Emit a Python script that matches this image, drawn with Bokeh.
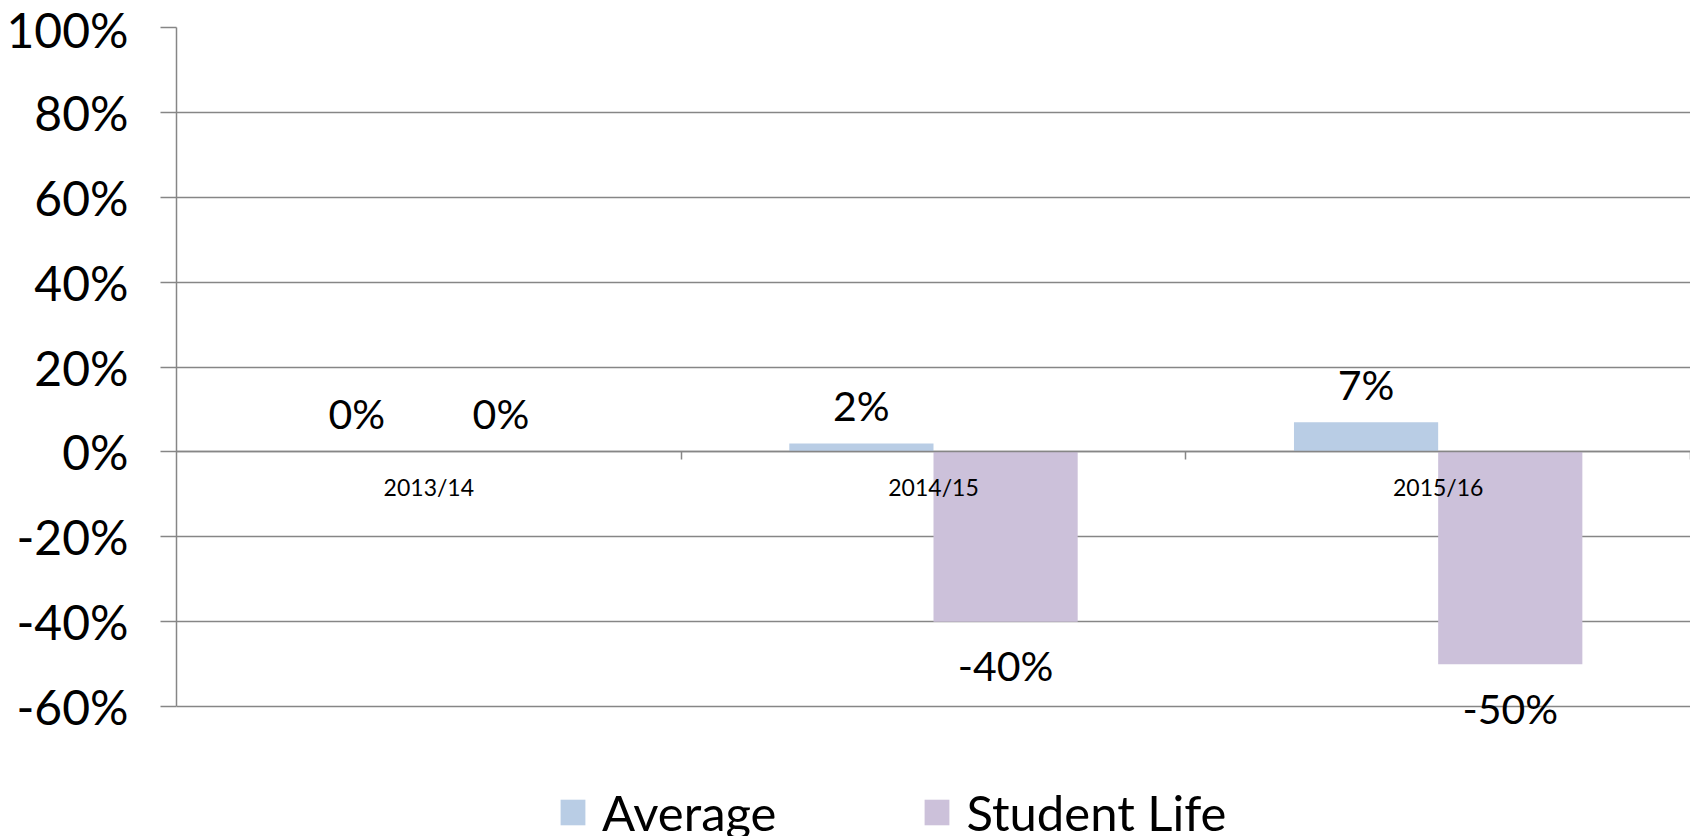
from bokeh.plotting import figure
from bokeh.models import (Range1d, FixedTicker, PrintfTickFormatter,
                          ColumnDataSource, Legend, LegendItem)
from bokeh.core.properties import value
from bokeh.embed import file_html
from bokeh.resources import INLINE

categories = ["2013/14", "2014/15", "2015/16"]
average = [0, 2, 7]
student_life = [0, -40, -50]
y_ticks = [-60, -40, -20, 0, 20, 40, 60, 80, 100]

FONT = "Lato"
GRID = "#868686"
BLUE = "#b9cde5"
PURPLE = "#ccc1da"
BAR_W = 1 / 3.5  # Excel gap width 150%

p = figure(width=1690, height=836, x_range=Range1d(0, 3.0), y_range=Range1d(-90.6, 100),
           output_backend="svg", toolbar_location=None,
           min_border_left=176, min_border_top=27, min_border_bottom=0, min_border_right=0)
p.outline_line_color = None
p.xgrid.visible = False
p.ygrid.ticker = FixedTicker(ticks=y_ticks)
p.ygrid.grid_line_color = GRID
p.ygrid.grid_line_width = 1.5

# y axis
ya = p.yaxis[0]
ya.ticker = FixedTicker(ticks=y_ticks)
ya.bounds = (min(y_ticks), max(y_ticks))
ya.formatter = PrintfTickFormatter(format="%d%%")
ya.axis_line_color = GRID
ya.axis_line_width = 1.5
ya.major_tick_line_color = GRID
ya.major_tick_line_width = 1.5
ya.major_tick_out = 16
ya.major_tick_in = 0
ya.minor_tick_line_color = None
ya.major_label_standoff = 32
ya.major_label_text_font = FONT
ya.major_label_text_font_size = "48px"
ya.major_label_text_color = "black"

# x axis: category boundary ticks on the zero line
n = len(categories)
xa = p.xaxis[0]
xa.ticker = FixedTicker(ticks=list(range(1, n + 1)))
xa.major_label_overrides = {i: "" for i in range(1, n + 1)}
xa.fixed_location = 0
xa.axis_line_color = GRID
xa.axis_line_width = 1.5
xa.major_tick_line_color = GRID
xa.major_tick_line_width = 1.5
xa.major_tick_out = 0
xa.major_tick_in = -8
xa.minor_tick_line_color = None
xa.major_label_standoff = 0
xa.major_label_text_font_size = "0px"

centers = [i + 0.5 for i in range(n)]

# bars
src_a = ColumnDataSource(dict(x=[c - BAR_W / 2 for c in centers], top=average,
                              label=[f"{v}%" for v in average],
                              off=[-38 if v >= 0 else 44 for v in average]))
src_s = ColumnDataSource(dict(x=[c + BAR_W / 2 for c in centers], top=student_life,
                              label=[f"{v}%" for v in student_life],
                              off=[-38 if v >= 0 else 44 for v in student_life]))
r1 = p.vbar(x="x", top="top", bottom=0, width=BAR_W, source=src_a, fill_color=BLUE, line_color=None)
r2 = p.vbar(x="x", top="top", bottom=0, width=BAR_W, source=src_s, fill_color=PURPLE, line_color=None)

# category labels just under the zero line (drawn over the bars)
cat_src = ColumnDataSource(dict(x=centers, y=[0] * n, text=categories))
p.text(x="x", y="y", text="text", source=cat_src, y_offset=35,
       text_font=value(FONT), text_font_size="23px", text_align="center",
       text_baseline="middle", text_color="black", level="overlay")

for src in (src_a, src_s):
    p.text(x="x", y="top", text="label", y_offset="off", source=src,
           text_font=value(FONT), text_font_size="41px", text_align="center",
           text_baseline="middle", text_color="black")

legend = Legend(items=[LegendItem(label="Average", renderers=[r1]),
                       LegendItem(label="Student Life", renderers=[r2])],
                location=(381, -5), orientation="horizontal",
                glyph_width=31, glyph_height=32, label_standoff=14, spacing=145,
                padding=0, margin=0, border_line_color=None, background_fill_alpha=0,
                label_text_font=FONT, label_text_font_size="49px", label_text_color="black")
p.add_layout(legend, "center")

open("out.html", "w").write(file_html(p, INLINE))
